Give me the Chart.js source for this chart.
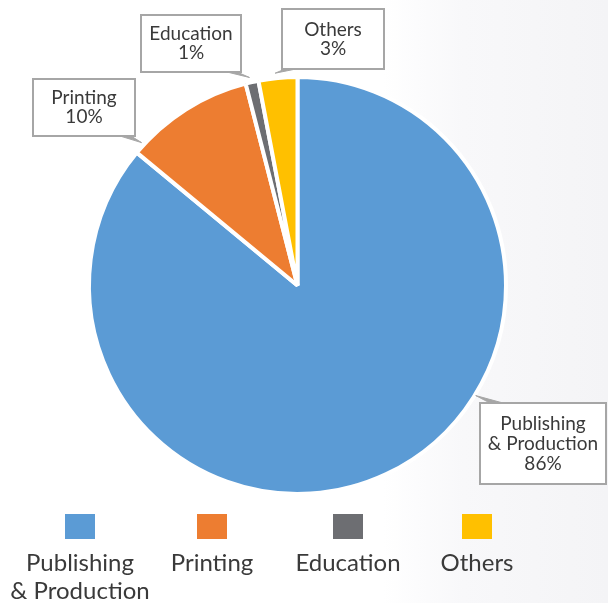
<!DOCTYPE html>
<html><head><meta charset="utf-8">
<script src="https://cdn.jsdelivr.net/npm/chart.js@4/dist/chart.umd.min.js"></script>
<style>
html,body{margin:0;padding:0;}
body{width:608px;height:603px;overflow:hidden;background:linear-gradient(90deg,#ffffff 0%,#ffffff 63%,#f8f8fa 76%,#f4f4f6 100%);}
canvas{display:block;}
</style></head><body>
<canvas id="c" width="608" height="603"></canvas>
<script>
// ---- data ----
const categories = [['Publishing', '& Production'], ['Printing'], ['Education'], ['Others']];
const shares = [86, 10, 1, 3];
const sliceColors = ['#5B9BD5', '#ED7D31', '#6D6E72', '#FFC000'];

// ---- layout of callouts (box x,y,w,h ; tail base points ; tip angle on the pie) ----
const callouts = [
  {box: [480, 403, 126, 81], base: [[490, 403], [503, 403]], tipDeg: 121.7, tipR: 1, lineH: 20},
  {box: [33, 79, 102, 57], base: [[120, 136], [131, 136]], tipDeg: 312.5, tipR: 3, lineH: 19},
  {box: [141, 15, 100, 57], base: [[227, 72], [237, 72]], tipDeg: 347, tipR: 5, lineH: 19},
  {box: [282, 9, 102, 60], base: [[285, 69], [296, 69]], tipDeg: 354, tipR: 5, lineH: 19}
];
const legendX = [80, 212, 348, 477];

const TEXT = '#3a3a3a';
const FONT = 'Lato, "Open Sans", sans-serif';

const calloutPlugin = {
  id: 'callouts',
  afterDraw(chart) {
    const ctx = chart.ctx;
    const meta = chart.getDatasetMeta(0);
    ctx.save();
    callouts.forEach((c, i) => {
      const arc = meta.data[i];
      const a = (c.tipDeg - 90) * Math.PI / 180;
      const r = arc.outerRadius + c.tipR;
      const tip = [arc.x + r * Math.cos(a), arc.y + r * Math.sin(a)];
      const [bx, by, bw, bh] = c.box;
      ctx.fillStyle = '#ffffff';
      ctx.fillRect(bx, by, bw, bh);
      ctx.strokeStyle = '#a6a6a6';
      ctx.lineWidth = 2;
      ctx.strokeRect(bx, by, bw, bh);
      ctx.beginPath();
      ctx.moveTo(c.base[0][0], c.base[0][1]);
      ctx.lineTo(tip[0], tip[1]);
      ctx.lineTo(c.base[1][0], c.base[1][1]);
      ctx.closePath();
      ctx.fillStyle = '#a6a6a6';
      ctx.fill();
      ctx.lineWidth = 1;
      ctx.stroke();
      const lines = categories[i].concat([shares[i] + '%']);
      ctx.fillStyle = TEXT;
      ctx.font = '19px ' + FONT;
      ctx.textAlign = 'center';
      ctx.textBaseline = 'middle';
      const cx = bx + bw / 2, cy = by + bh / 2;
      lines.forEach((t, k) => {
        ctx.fillText(t, cx, cy + (k - (lines.length - 1) / 2) * c.lineH);
      });
    });
    // legend
    categories.forEach((lab, i) => {
      const x = legendX[i];
      ctx.fillStyle = sliceColors[i];
      ctx.fillRect(x - 15, 514, 30, 25);
      ctx.fillStyle = TEXT;
      ctx.font = '24px ' + FONT;
      ctx.textAlign = 'center';
      ctx.textBaseline = 'alphabetic';
      lab.forEach((t, k) => ctx.fillText(t, x, 571 + k * 28));
    });
    ctx.restore();
  }
};

new Chart(document.getElementById('c'), {
  type: 'pie',
  data: {
    labels: categories,
    datasets: [{
      data: shares,
      backgroundColor: sliceColors,
      borderColor: '#ffffff',
      borderWidth: 4
    }]
  },
  options: {
    responsive: false,
    animation: false,
    layout: {padding: {left: 87, right: 100, top: 75, bottom: 107}},
    plugins: {legend: {display: false}, tooltip: {enabled: false}}
  },
  plugins: [calloutPlugin]
});
</script>
</body></html>
